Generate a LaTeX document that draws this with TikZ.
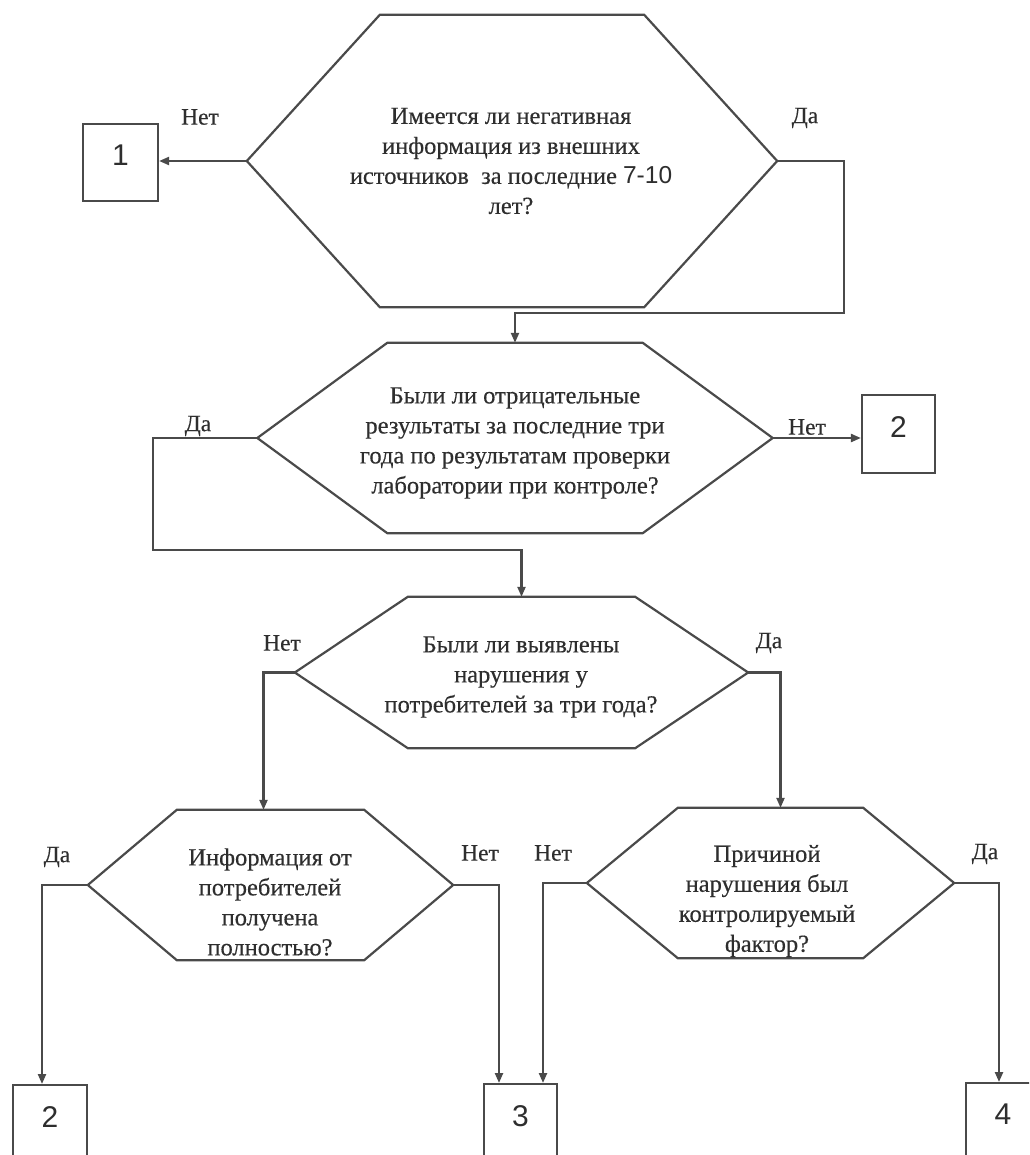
\documentclass[tikz,border=0pt]{standalone}
\usepackage{fontspec}
\setmainfont{Liberation Serif}[FakeBold=0.35]
\newfontfamily\numfont{Liberation Sans}
\usetikzlibrary{arrows.meta,calc}
\definecolor{ink}{HTML}{4a4a4a}
\definecolor{txt}{HTML}{2e2e2e}
\newcommand\drawhexagon[2]{\draw[line,line join=miter] (#1.west) -- ([xshift=#2pt]#1.north west) -- ([xshift=-#2pt]#1.north east) -- (#1.east) -- ([xshift=-#2pt]#1.south east) -- ([xshift=#2pt]#1.south west) -- cycle;}
\begin{document}
\begin{tikzpicture}[x=1pt,y=-1pt,
  line/.style={draw=ink,line width=2.2pt},
  conn/.style={line,-{Triangle[length=10pt,width=8pt]}},
  hexshape/.style={inner sep=0pt,draw=none},
  qtext/.style={align=center,font=\fontsize{24.5}{30}\selectfont,text=txt,inner sep=0pt},
  lbl/.style={font=\fontsize{23.5}{28}\selectfont,text=txt,inner sep=0pt},
  numbox/.style={line,inner sep=0pt,font=\numfont\fontsize{30}{34}\selectfont,text=txt,text depth=14pt}
]
\useasboundingbox (0,0) rectangle (1029,1155);
\fill[white] (0,0) rectangle (1029,1155);
\clip (0,0) rectangle (1029,1155);

% hexagon frames
\node[hexshape,minimum width=530pt,minimum height=292pt] (h1) at (512,161) {};
\node[hexshape,minimum width=515pt,minimum height=190pt] (h2) at (515,438) {};
\node[hexshape,minimum width=453pt,minimum height=151pt] (h3) at (521.5,672.5) {};
\node[hexshape,minimum width=365pt,minimum height=150pt] (h4) at (270.5,885) {};
\node[hexshape,minimum width=367pt,minimum height=150pt] (h5) at (770.5,883) {};
\drawhexagon{h1}{133}
\drawhexagon{h2}{130}
\drawhexagon{h3}{113}
\drawhexagon{h4}{89}
\drawhexagon{h5}{91}

% question texts
\node[qtext] (t1) at (511,161) {Имеется ли негативная\\информация из внешних\\источников~ за последние {\numfont 7-10}\\лет?};
\node[qtext] (t2) at (515,443) {Были ли отрицательные\\результаты за последние три\\года по результатам проверки\\лаборатории при контроле?};
\node[qtext] (t3) at (521,677) {Были ли выявлены\\нарушения у\\потребителей за три года?};
\node[qtext] (t4) at (270,902) {Информация от\\потребителей\\получена\\полностью?};
\node[qtext] (t5) at (767,901) {Причиной\\нарушения был\\контролируемый\\фактор?};

% numbered boxes
\node[numbox,minimum width=75pt,minimum height=77pt] (b1) at (120.5,162.5) {1};
\node[numbox,minimum width=73pt,minimum height=78pt] (b2) at (898.5,434) {2};
\node[numbox,minimum width=74pt,minimum height=77pt,anchor=north] (b5) at (50,1084) {2};
\node[numbox,minimum width=73pt,minimum height=77pt,anchor=north] (b6) at (520.5,1083) {3};
\node[numbox,minimum width=74pt,minimum height=77pt,anchor=north] (b7) at (1003,1082) {4};

% bend points
\coordinate (c1) at (844,313);
\coordinate (c2) at (153,550);

% connectors
\draw[conn] (h1.west) -- (h1.west -| b1.east);
\draw[conn] (h1.east) -| (c1) -| (h2.north);
\draw[conn] (h2.east) -- (h2.east -| b2.west);
\draw[conn] (h2.west) -| (c2) -| (h3.north);
\draw[conn] (h3.west) -| ([xshift=-7pt]h4.north);
\draw[conn] (h3.east) -| ([xshift=10pt]h5.north);
\draw[conn] (h4.west) -| ([xshift=-8pt]b5.north);
\draw[conn] (h4.east) -| ([xshift=-21.5pt]b6.north);
\draw[conn] (h5.west) -| ([xshift=22.5pt]b6.north);
\draw[conn] (h5.east) -| ([xshift=-4pt]b7.north);

% branch labels
\node[lbl] (l1n) at (200,117) {Нет};
\node[lbl] (l1y) at (805,118) {Да};
\node[lbl] (l2y) at (198,426) {Да};
\node[lbl] (l2n) at (807,427) {Нет};
\node[lbl] (l3n) at (282,643) {Нет};
\node[lbl] (l3y) at (769,643) {Да};
\node[lbl] (l4y) at (57,857) {Да};
\node[lbl] (l4n) at (480,853) {Нет};
\node[lbl] (l5n) at (553,853) {Нет};
\node[lbl] (l5y) at (985,854) {Да};
\end{tikzpicture}
\end{document}
